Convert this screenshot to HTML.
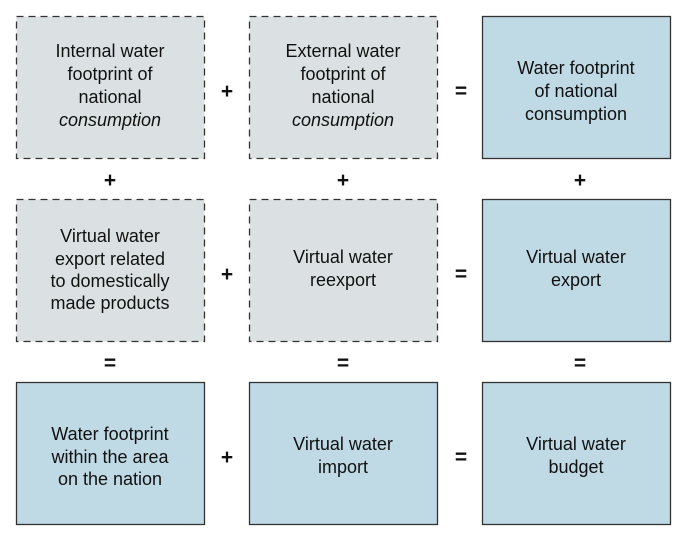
<!DOCTYPE html>
<html><head><style>
html,body{margin:0;padding:0;background:#fff}
svg{display:block}
text{font-family:"Liberation Sans",Arial,sans-serif;font-size:18px;fill:#111;text-anchor:middle}
.op{font-size:21px;font-weight:bold}
</style></head><body>
<svg width="689" height="542" viewBox="0 0 689 542">
<g stroke="#333" stroke-width="1.3">
<rect x="16.5" y="16.5" width="188" height="142" fill="#dbe1e3" stroke-dasharray="7,5"/>
<rect x="249.5" y="16.5" width="188" height="142" fill="#dbe1e3" stroke-dasharray="7,5"/>
<rect x="482.5" y="16.5" width="188" height="142" fill="#bfd9e5"/>
<rect x="16.5" y="199.5" width="188" height="142" fill="#dbe1e3" stroke-dasharray="7,5"/>
<rect x="249.5" y="199.5" width="188" height="142" fill="#dbe1e3" stroke-dasharray="7,5"/>
<rect x="482.5" y="199.5" width="188" height="142" fill="#bfd9e5"/>
<rect x="16.5" y="382.5" width="188" height="142" fill="#bfd9e5"/>
<rect x="249.5" y="382.5" width="188" height="142" fill="#bfd9e5"/>
<rect x="482.5" y="382.5" width="188" height="142" fill="#bfd9e5"/>
</g>
<text x="110" y="57">Internal water</text>
<text x="110" y="80">footprint of</text>
<text x="110" y="103">national</text>
<text x="110" y="126" font-style="italic">consumption</text>
<text x="343" y="57">External water</text>
<text x="343" y="80">footprint of</text>
<text x="343" y="103">national</text>
<text x="343" y="126" font-style="italic">consumption</text>
<text x="576" y="74">Water footprint</text>
<text x="576" y="97">of national</text>
<text x="576" y="120">consumption</text>
<text x="110" y="242">Virtual water</text>
<text x="110" y="265">export related</text>
<text x="110" y="287">to domestically</text>
<text x="110" y="309">made products</text>
<text x="343" y="263">Virtual water</text>
<text x="343" y="286">reexport</text>
<text x="576" y="263">Virtual water</text>
<text x="576" y="286">export</text>
<text x="110" y="440">Water footprint</text>
<text x="110" y="463">within the area</text>
<text x="110" y="485">on the nation</text>
<text x="343" y="450">Virtual water</text>
<text x="343" y="473">import</text>
<text x="576" y="450">Virtual water</text>
<text x="576" y="473">budget</text>
<text class="op" x="227" y="98">+</text>
<text class="op" x="461" y="98">=</text>
<text class="op" x="227" y="281">+</text>
<text class="op" x="461" y="281">=</text>
<text class="op" x="227" y="464">+</text>
<text class="op" x="461" y="464">=</text>
<text class="op" x="110" y="187">+</text>
<text class="op" x="343" y="187">+</text>
<text class="op" x="580" y="187">+</text>
<text class="op" x="110" y="370">=</text>
<text class="op" x="343" y="370">=</text>
<text class="op" x="580" y="370">=</text>
</svg>
</body></html>
